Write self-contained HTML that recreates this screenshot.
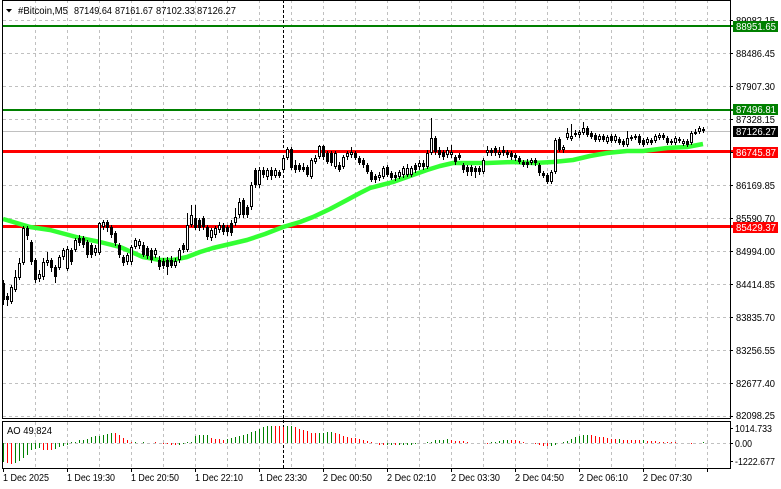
<!DOCTYPE html>
<html>
<head>
<meta charset="utf-8">
<style>
html,body{margin:0;padding:0;background:#fff;}
svg{display:block;}
text{font-family:"Liberation Sans",Arial,sans-serif;font-size:10px;fill:#000;}
</style>
</head>
<body>
<svg width="781" height="489" viewBox="0 0 781 489" xmlns="http://www.w3.org/2000/svg">
<rect x="0" y="0" width="781" height="489" fill="#fff"/>

<!-- horizontal grid main -->
<g stroke="#c0c0c0" stroke-width="1" stroke-dasharray="3,3" fill="none">
<path d="M3 20.5H730M3 53.5H730M3 86.5H730M3 119.5H730M3 152.5H730M3 185.5H730M3 218.5H730M3 251.5H730M3 284.5H730M3 317.5H730M3 350.5H730M3 383.5H730M3 416.5H730"/>
<path d="M35.5 0V418M67.5 0V418M99.5 0V418M131.5 0V418M163.5 0V418M195.5 0V418M227.5 0V418M259.5 0V418M291.5 0V418M323.5 0V418M355.5 0V418M387.5 0V418M419.5 0V418M451.5 0V418M483.5 0V418M515.5 0V418M547.5 0V418M579.5 0V418M611.5 0V418M643.5 0V418M675.5 0V418M707.5 0V418"/>
<path d="M35.5 422V468M67.5 422V468M99.5 422V468M131.5 422V468M163.5 422V468M195.5 422V468M227.5 422V468M259.5 422V468M291.5 422V468M323.5 422V468M355.5 422V468M387.5 422V468M419.5 422V468M451.5 422V468M483.5 422V468M515.5 422V468M547.5 422V468M579.5 422V468M611.5 422V468M643.5 422V468M675.5 422V468M707.5 422V468"/>
<path d="M3 443.5H730"/>
</g>

<!-- period separator -->
<path d="M283.5 0V468" stroke="#000" stroke-width="1" stroke-dasharray="3,2" fill="none"/>

<!-- level lines -->
<rect x="3" y="25" width="730" height="2" fill="#008000"/>
<rect x="3" y="109" width="730" height="2" fill="#008000"/>
<rect x="3" y="131" width="727" height="1" fill="#c0c0c0"/>
<rect x="3" y="150" width="730" height="3" fill="#ff0000"/>
<rect x="3" y="225" width="730" height="3" fill="#ff0000"/>

<!-- moving average -->
<polyline fill="none" stroke="#33ff33" stroke-width="4.5" stroke-linejoin="round" points="3,219 10,221 30,227 50,230 80,238 100,242 120,247 143,257 160,260 173,260 187,257 200,252 213,248 230,244 247,240 265,234 283,227 300,222 313,217 330,209 347,200 360,193 370,188 393,182 410,176 427,170 440,166 453,163 470,163 487,163 513,162 533,163 553,162 573,160 590,156 607,153 627,151 643,151 667,148 687,147 703,144"/>

<!-- wicks -->
<path stroke="#000" stroke-width="1" fill="none" d="M3.5 280V305M7.5 293V306M11.5 285V304M15.5 270V292M19.5 258V280M23.5 226V265M27.5 226V240M31.5 240V265M35.5 258V283M39.5 270V282M43.5 258V280M47.5 252V266M51.5 258V272M55.5 265V283M59.5 255V270M63.5 248V260M67.5 246V271M71.5 248V265M75.5 238V252M79.5 235V246M83.5 236V248M87.5 240V258M91.5 243V258M95.5 245V256M99.5 222V255M103.5 220V230M107.5 220V232M111.5 225V238M115.5 231V246M119.5 243V258M123.5 255V266M127.5 253V265M131.5 245V265M135.5 238V249M139.5 239V249M143.5 242V257M147.5 246V259M151.5 248V263M155.5 248V258M159.5 256V270M163.5 258V269M167.5 257V275M171.5 256V268M175.5 258V268M179.5 248V263M183.5 243V253M187.5 213V252M191.5 205V227M195.5 205V230M199.5 218V231M203.5 216V230M207.5 225V240M211.5 228V241M215.5 226V238M219.5 222V233M223.5 223V235M227.5 225V236M231.5 220V236M235.5 208V226M239.5 198V218M243.5 198V218M247.5 205V218M251.5 182V210M255.5 168V188M259.5 167V188M263.5 167V178M267.5 168V180M271.5 167V180M275.5 168V178M279.5 170V178M283.5 155V172M287.5 147V160M291.5 147V170M295.5 160V173M299.5 163V172M303.5 163V172M307.5 165V177M311.5 158V179M315.5 155V164M319.5 145V159M323.5 145V160M327.5 151V164M331.5 151V166M335.5 151V169M339.5 162V172M343.5 155V169M347.5 151V160M351.5 147V158M355.5 151V160M359.5 156V165M363.5 158V168M367.5 163V174M371.5 170V182M375.5 174V183M379.5 172V181M383.5 166V179M387.5 165V177M391.5 171V180M395.5 172V181M399.5 170V179M403.5 166V178M407.5 164V177M411.5 166V177M415.5 163V173M419.5 160V170M423.5 160V170M427.5 150V169M431.5 118V155M435.5 136V155M439.5 147V158M443.5 150V160M447.5 147V158M451.5 145V158M455.5 155V165M459.5 153V160M463.5 163V173M467.5 165V176M471.5 165V176M475.5 166V178M479.5 166V175M483.5 158V174M487.5 146V156M491.5 148V156M495.5 146V156M499.5 147V158M503.5 146V156M507.5 150V158M511.5 151V160M515.5 153V161M519.5 156V164M523.5 160V167M527.5 159V168M531.5 158V165M535.5 158V166M539.5 163V176M543.5 171V178M547.5 173V184M551.5 170V184M555.5 138V174M559.5 137V152M563.5 145V153M567.5 128V140M571.5 124V141M575.5 130V137M579.5 130V138M583.5 122V135M587.5 126V137M591.5 131V139M595.5 133V142M599.5 134V142M603.5 134V142M607.5 135V144M611.5 134V143M615.5 134V143M619.5 137V145M623.5 139V147M627.5 131V147M631.5 135V141M635.5 134V140M639.5 134V145M643.5 138V147M647.5 137V145M651.5 138V145M655.5 134V143M659.5 133V140M663.5 133V140M667.5 136V145M671.5 139V145M675.5 136V145M679.5 137V143M683.5 139V146M687.5 139V147M691.5 131V145M695.5 129V135M699.5 126V134M703.5 127V133"/>

<!-- bear bodies -->
<path fill="#000" d="M2 283h3v17h-3zM6 296h3v4h-3zM26 228h3v8h-3zM30 242h3v20h-3zM34 260h3v20h-3zM50 260h3v8h-3zM54 267h3v10h-3zM70 250h3v12h-3zM78 238h3v5h-3zM82 238h3v7h-3zM86 242h3v13h-3zM90 245h3v10h-3zM106 222h3v6h-3zM110 227h3v8h-3zM114 233h3v10h-3zM118 245h3v10h-3zM122 257h3v6h-3zM142 245h3v10h-3zM146 248h3v8h-3zM150 250h3v10h-3zM158 260h3v7h-3zM162 261h3v5h-3zM166 260h3v7h-3zM170 260h3v6h-3zM182 245h3v5h-3zM194 218h3v10h-3zM198 220h3v8h-3zM202 218h3v9h-3zM206 227h3v10h-3zM222 225h3v7h-3zM226 227h3v5h-3zM230 223h3v10h-3zM242 200h3v15h-3zM246 207h3v8h-3zM254 170h3v15h-3zM262 170h3v5h-3zM270 170h3v6h-3zM278 172h3v4h-3zM290 149h3v19h-3zM294 165h3v5h-3zM298 165h3v5h-3zM302 167h3v3h-3zM306 167h3v8h-3zM322 146h3v11h-3zM326 153h3v9h-3zM330 153h3v10h-3zM338 165h3v5h-3zM354 153h3v5h-3zM358 158h3v5h-3zM362 160h3v5h-3zM366 165h3v7h-3zM370 172h3v8h-3zM374 176h3v4h-3zM386 167h3v8h-3zM390 173h3v5h-3zM394 175h3v3h-3zM414 165h3v5h-3zM422 163h3v4h-3zM434 138h3v14h-3zM438 150h3v5h-3zM442 152h3v5h-3zM454 157h3v5h-3zM458 155h3v3h-3zM462 165h3v5h-3zM466 167h3v5h-3zM470 167h3v5h-3zM474 168h3v4h-3zM478 168h3v4h-3zM490 150h3v3h-3zM494 148h3v5h-3zM502 150h3v3h-3zM506 152h3v3h-3zM510 153h3v4h-3zM514 155h3v3h-3zM518 158h3v4h-3zM522 162h3v3h-3zM526 162h3v3h-3zM534 160h3v3h-3zM538 165h3v8h-3zM542 173h3v3h-3zM546 175h3v7h-3zM558 139h3v11h-3zM574 133h3v2h-3zM586 128h3v7h-3zM590 133h3v4h-3zM594 135h3v5h-3zM602 136h3v4h-3zM610 136h3v5h-3zM618 139h3v4h-3zM622 141h3v4h-3zM630 137h3v2h-3zM638 136h3v7h-3zM642 140h3v5h-3zM650 140h3v3h-3zM662 135h3v3h-3zM666 138h3v5h-3zM670 141h3v2h-3zM678 139h3v2h-3zM686 141h3v4h-3zM702 129h3v2h-3z"/>

<!-- bull bodies -->
<path fill="#fff" stroke="#000" stroke-width="1" d="M10.5 287.5h2v14h-2zM14.5 277.5h2v12h-2zM18.5 263.5h2v14h-2zM22.5 228.5h2v34h-2zM38.5 274.5h2v4h-2zM42.5 262.5h2v14h-2zM46.5 260.5h2v2h-2zM58.5 257.5h2v10h-2zM62.5 250.5h2v6h-2zM66.5 249.5h2v19h-2zM74.5 240.5h2v9h-2zM94.5 248.5h2v4h-2zM98.5 223.5h2v29h-2zM102.5 222.5h2v4h-2zM126.5 255.5h2v6h-2zM130.5 247.5h2v14h-2zM134.5 240.5h2v6h-2zM138.5 241.5h2v4h-2zM154.5 250.5h2v4h-2zM174.5 261.5h2v4h-2zM178.5 250.5h2v9h-2zM186.5 225.5h2v24h-2zM190.5 215.5h2v9h-2zM210.5 230.5h2v7h-2zM214.5 228.5h2v6h-2zM218.5 225.5h2v4h-2zM234.5 217.5h2v5h-2zM238.5 202.5h2v12h-2zM250.5 185.5h2v21h-2zM258.5 170.5h2v14h-2zM266.5 170.5h2v6h-2zM274.5 170.5h2v5h-2zM282.5 158.5h2v11h-2zM286.5 149.5h2v8h-2zM310.5 160.5h2v16h-2zM314.5 158.5h2v3h-2zM318.5 146.5h2v10h-2zM334.5 153.5h2v13h-2zM342.5 157.5h2v9h-2zM346.5 153.5h2v3h-2zM350.5 152.5h2v2h-2zM378.5 175.5h2v2h-2zM382.5 168.5h2v8h-2zM398.5 172.5h2v4h-2zM402.5 168.5h2v6h-2zM406.5 168.5h2v6h-2zM410.5 168.5h2v6h-2zM418.5 163.5h2v3h-2zM426.5 153.5h2v13h-2zM430.5 138.5h2v14h-2zM446.5 150.5h2v4h-2zM450.5 152.5h2v2h-2zM482.5 160.5h2v11h-2zM486.5 150.5h2v2h-2zM498.5 152.5h2v2h-2zM530.5 160.5h2v2h-2zM550.5 172.5h2v9h-2zM554.5 140.5h2v31h-2zM562.5 147.5h2v2h-2zM566.5 133.5h2v4h-2zM570.5 136.5h2v2h-2zM578.5 132.5h2v2h-2zM582.5 128.5h2v4h-2zM598.5 136.5h2v3h-2zM606.5 137.5h2v4h-2zM614.5 136.5h2v4h-2zM626.5 138.5h2v6h-2zM634.5 136.5h2v1h-2zM646.5 139.5h2v3h-2zM654.5 136.5h2v4h-2zM658.5 135.5h2v2h-2zM674.5 138.5h2v4h-2zM682.5 141.5h2v2h-2zM690.5 133.5h2v9h-2zM694.5 132.5h2v1h-2zM698.5 128.5h2v3h-2z"/>

<!-- AO histogram -->
<path stroke="#008000" stroke-width="1" fill="none" d="M3.5 443V462M15.5 443V463M19.5 443V461M23.5 443V458M27.5 443V455M31.5 443V450M35.5 443V449M39.5 443V448M55.5 443V449M59.5 443V447M63.5 443V446M67.5 443V445M71.5 443V442M75.5 443V442M79.5 443V440M83.5 443V440M87.5 443V439M91.5 443V437M95.5 443V436M99.5 443V436M103.5 443V435M107.5 443V434M111.5 443V433M135.5 443V442M143.5 443V442M179.5 443V445M183.5 443V444M187.5 443V442M191.5 443V442M195.5 443V436M199.5 443V435M203.5 443V435M207.5 443V435M227.5 443V439M231.5 443V438M235.5 443V437M239.5 443V436M243.5 443V435M247.5 443V434M251.5 443V432M255.5 443V431M259.5 443V429M263.5 443V427M267.5 443V426M271.5 443V426M287.5 443V426M291.5 443V426M319.5 443V433M323.5 443V433M327.5 443V432M331.5 443V432M387.5 443V445M391.5 443V445M399.5 443V445M403.5 443V445M407.5 443V445M411.5 443V445M415.5 443V444M427.5 443V442M431.5 443V442M435.5 443V440M439.5 443V440M443.5 443V440M447.5 443V439M491.5 443V442M495.5 443V442M499.5 443V441M503.5 443V440M507.5 443V440M551.5 443V446M555.5 443V445M563.5 443V442M567.5 443V441M571.5 443V439M575.5 443V437M579.5 443V436M583.5 443V435M587.5 443V435M619.5 443V439M643.5 443V440M703.5 443V442"/>
<path stroke="#ff0000" stroke-width="1" fill="none" d="M7.5 443V463M11.5 443V464M43.5 443V450M47.5 443V450M51.5 443V450M115.5 443V433M119.5 443V435M123.5 443V438M127.5 443V440M131.5 443V442M155.5 443V442M163.5 443V444M167.5 443V444M171.5 443V445M175.5 443V445M211.5 443V438M215.5 443V439M219.5 443V439M223.5 443V440M275.5 443V426M279.5 443V426M283.5 443V427M295.5 443V427M299.5 443V429M303.5 443V430M307.5 443V431M311.5 443V433M315.5 443V433M335.5 443V433M339.5 443V434M343.5 443V436M347.5 443V437M351.5 443V438M355.5 443V438M359.5 443V439M363.5 443V440M367.5 443V441M371.5 443V442M379.5 443V445M383.5 443V445M395.5 443V445M451.5 443V440M455.5 443V441M459.5 443V441M463.5 443V441M467.5 443V442M487.5 443V444M511.5 443V440M515.5 443V440M519.5 443V441M523.5 443V442M535.5 443V444M539.5 443V445M543.5 443V446M547.5 443V446M591.5 443V435M595.5 443V436M599.5 443V437M603.5 443V437M607.5 443V438M611.5 443V439M615.5 443V439M623.5 443V440M627.5 443V440M631.5 443V440M635.5 443V440M639.5 443V440M647.5 443V441M651.5 443V441M655.5 443V441M659.5 443V442M663.5 443V442M667.5 443V442M671.5 443V442M675.5 443V442M691.5 443V444"/>

<!-- frames -->
<path stroke="#000" stroke-width="1" fill="none" d="M2.5 0.5H730.5V418.5H2.5Z"/>
<path stroke="#000" stroke-width="1" fill="none" d="M2.5 421.5H730.5V468.5H2.5Z"/>

<!-- right axis ticks -->
<path stroke="#000" stroke-width="1" fill="none" d="M730 20.5h3M730 53.5h3M730 86.5h3M730 119.5h3M730 152.5h3M730 185.5h3M730 218.5h3M730 251.5h3M730 284.5h3M730 317.5h3M730 350.5h3M730 383.5h3M730 416.5h3M730 428.5h3M730 443.5h3M730 461.5h3"/>
<!-- bottom ticks -->
<path stroke="#000" stroke-width="1" fill="none" d="M3.5 468v4M67.5 468v4M131.5 468v4M195.5 468v4M259.5 468v4M323.5 468v4M387.5 468v4M451.5 468v4M515.5 468v4M579.5 468v4M643.5 468v4M707.5 468v4"/>

<!-- price labels -->
<text x="736" y="24" textLength="39" lengthAdjust="spacingAndGlyphs">89082.15</text>
<text x="736" y="57" textLength="39" lengthAdjust="spacingAndGlyphs">88486.45</text>
<text x="736" y="90" textLength="39" lengthAdjust="spacingAndGlyphs">87907.30</text>
<text x="736" y="123" textLength="39" lengthAdjust="spacingAndGlyphs">87328.15</text>
<text x="736" y="156" textLength="39" lengthAdjust="spacingAndGlyphs">86749.00</text>
<text x="736" y="189" textLength="39" lengthAdjust="spacingAndGlyphs">86169.85</text>
<text x="736" y="222" textLength="39" lengthAdjust="spacingAndGlyphs">85590.70</text>
<text x="736" y="255" textLength="39" lengthAdjust="spacingAndGlyphs">84994.00</text>
<text x="736" y="288" textLength="39" lengthAdjust="spacingAndGlyphs">84414.85</text>
<text x="736" y="321" textLength="39" lengthAdjust="spacingAndGlyphs">83835.70</text>
<text x="736" y="354" textLength="39" lengthAdjust="spacingAndGlyphs">83256.55</text>
<text x="736" y="387" textLength="39" lengthAdjust="spacingAndGlyphs">82677.40</text>
<text x="736" y="419" textLength="39" lengthAdjust="spacingAndGlyphs">82098.25</text>

<!-- level boxes -->
<rect x="733" y="21" width="45" height="11" fill="#008000"/>
<text x="736" y="30" textLength="40" lengthAdjust="spacingAndGlyphs" style="fill:#fff">88951.65</text>
<rect x="733" y="104" width="45" height="11" fill="#008000"/>
<text x="736" y="113" textLength="40" lengthAdjust="spacingAndGlyphs" style="fill:#fff">87496.81</text>
<rect x="733" y="126" width="45" height="11" fill="#000"/>
<text x="736" y="135" textLength="40" lengthAdjust="spacingAndGlyphs" style="fill:#fff">87126.27</text>
<rect x="733" y="147" width="45" height="11" fill="#ff0000"/>
<text x="736" y="156" textLength="40" lengthAdjust="spacingAndGlyphs" style="fill:#fff">86745.87</text>
<rect x="733" y="222" width="45" height="11" fill="#ff0000"/>
<text x="736" y="231" textLength="40" lengthAdjust="spacingAndGlyphs" style="fill:#fff">85429.37</text>

<!-- AO scale labels -->
<text x="735" y="432" textLength="37" lengthAdjust="spacingAndGlyphs">1014.733</text>
<text x="735" y="447" textLength="17" lengthAdjust="spacingAndGlyphs">0.00</text>
<text x="735" y="465" textLength="40" lengthAdjust="spacingAndGlyphs">-1222.677</text>

<!-- title -->
<path d="M6 9h6l-3 3.5z" fill="#000"/>
<text x="18" y="14" textLength="50" lengthAdjust="spacingAndGlyphs">#Bitcoin,M5</text>
<text x="74" y="14" textLength="38" lengthAdjust="spacingAndGlyphs">87149.64</text>
<text x="115" y="14" textLength="38" lengthAdjust="spacingAndGlyphs">87161.67</text>
<text x="156" y="14" textLength="39" lengthAdjust="spacingAndGlyphs">87102.33</text>
<text x="197" y="14" textLength="39" lengthAdjust="spacingAndGlyphs">87126.27</text>

<!-- AO label -->
<text x="7" y="434" textLength="45" lengthAdjust="spacingAndGlyphs">AO 49.824</text>

<!-- time labels -->
<text x="3" y="481" textLength="46" lengthAdjust="spacingAndGlyphs">1 Dec 2025</text>
<text x="67" y="481" textLength="48" lengthAdjust="spacingAndGlyphs">1 Dec 19:30</text>
<text x="131" y="481" textLength="48" lengthAdjust="spacingAndGlyphs">1 Dec 20:50</text>
<text x="195" y="481" textLength="48" lengthAdjust="spacingAndGlyphs">1 Dec 22:10</text>
<text x="259" y="481" textLength="48" lengthAdjust="spacingAndGlyphs">1 Dec 23:30</text>
<text x="323" y="481" textLength="49" lengthAdjust="spacingAndGlyphs">2 Dec 00:50</text>
<text x="387" y="481" textLength="49" lengthAdjust="spacingAndGlyphs">2 Dec 02:10</text>
<text x="451" y="481" textLength="49" lengthAdjust="spacingAndGlyphs">2 Dec 03:30</text>
<text x="515" y="481" textLength="49" lengthAdjust="spacingAndGlyphs">2 Dec 04:50</text>
<text x="579" y="481" textLength="49" lengthAdjust="spacingAndGlyphs">2 Dec 06:10</text>
<text x="643" y="481" textLength="49" lengthAdjust="spacingAndGlyphs">2 Dec 07:30</text>
</svg>
</body>
</html>
